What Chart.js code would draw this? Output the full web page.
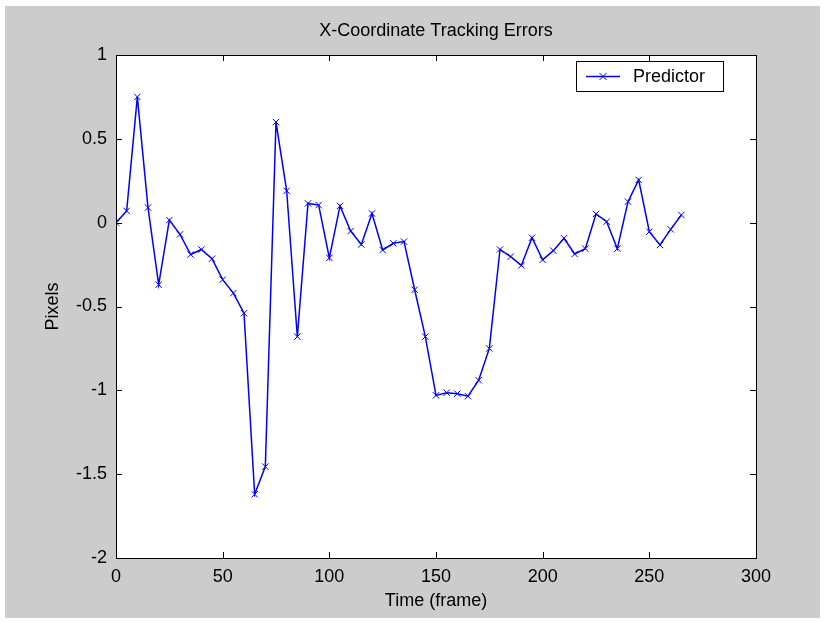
<!DOCTYPE html>
<html><head><meta charset="utf-8">
<script src="https://cdn.jsdelivr.net/npm/chart.js@4.4.1/dist/chart.umd.min.js"></script>
<style>html,body{margin:0;padding:0;background:#fff;overflow:hidden}#wrap{width:825px;height:622px}</style>
</head><body><div id="wrap"><canvas id="c" width="825" height="622"></canvas></div>
<script>
const frames = [0,5,10,15,20,25,30,35,40,45,50,55,60,65,70,75,80,85,90,95,100,105,110,115,120,125,130,135,140,145,150,155,160,165,170,175,180,185,190,195,200,205,210,215,220,225,230,235,240,245,250,255,260,265];
const errors = [0,0.07,0.75,0.09,-0.37,0.015,-0.07,-0.19,-0.16,-0.215,-0.34,-0.42,-0.54,-1.62,-1.455,0.60,0.19,-0.68,0.115,0.105,-0.21,0.10,-0.05,-0.13,0.055,-0.163,-0.123,-0.113,-0.40,-0.68,-1.03,-1.014,-1.02,-1.035,-0.94,-0.75,-0.16,-0.203,-0.255,-0.09,-0.222,-0.167,-0.093,-0.187,-0.155,0.052,0.006,-0.155,0.125,0.255,-0.054,-0.133,-0.04,0.046];
const xTicks = [0,50,100,150,200,250,300];
const yTicks = [-2,-1.5,-1,-0.5,0,0.5,1];
const chartTitle = 'X-Coordinate Tracking Errors';
const seriesLabel = 'Predictor';
const xTitle = 'Time (frame)';
const yTitle = 'Pixels';

const FONT = '"Liberation Sans", Arial, sans-serif';
Chart.defaults.color = '#000';
Chart.defaults.font.family = FONT;
Chart.defaults.font.size = 18;

const points = frames.map((f, i) => ({x: f, y: errors[i]}));

const framePlugin = {
  id: 'matlabFrame',
  beforeDraw(chart) {
    const ctx = chart.ctx, a = chart.chartArea;
    ctx.save();
    ctx.fillStyle = '#ffffff';
    ctx.fillRect(0, 0, chart.width, chart.height);
    ctx.fillStyle = '#cccccc';
    ctx.fillRect(5, 6, 815, 612);
    ctx.fillStyle = '#ffffff';
    ctx.fillRect(a.left, a.top, a.right - a.left, a.bottom - a.top);
    // title centred over the plot area
    ctx.fillStyle = '#000';
    ctx.font = '18px ' + FONT;
    ctx.textAlign = 'center';
    ctx.textBaseline = 'middle';
    ctx.fillText(chartTitle, (a.left + a.right) / 2, 31);
    ctx.restore();
  },
  afterDraw(chart) {
    const ctx = chart.ctx, a = chart.chartArea;
    const xs = chart.scales.x, ys = chart.scales.y;
    ctx.save();
    ctx.strokeStyle = '#000';
    ctx.lineWidth = 1;
    ctx.strokeRect(Math.round(a.left) + 0.5, Math.round(a.top) + 0.5, Math.round(a.right - a.left), Math.round(a.bottom - a.top));
    const tl = 6;
    ctx.beginPath();
    xTicks.forEach(v => {
      const px = Math.round(xs.getPixelForValue(v)) + 0.5;
      ctx.moveTo(px, a.bottom); ctx.lineTo(px, a.bottom - tl);
      ctx.moveTo(px, a.top); ctx.lineTo(px, a.top + tl);
    });
    yTicks.forEach(v => {
      const py = Math.round(ys.getPixelForValue(v)) + 0.5;
      ctx.moveTo(a.left, py); ctx.lineTo(a.left + tl, py);
      ctx.moveTo(a.right, py); ctx.lineTo(a.right - tl, py);
    });
    ctx.stroke();

    // legend box
    const ds = chart.data.datasets[0];
    const bx = 576.5, by = 61.5, bw = 147, bh = 30;
    ctx.fillStyle = '#fff';
    ctx.fillRect(bx, by, bw, bh);
    ctx.strokeStyle = '#000';
    ctx.strokeRect(bx, by, bw, bh);
    const ly = by + bh / 2;
    ctx.strokeStyle = ds.borderColor;
    ctx.lineWidth = 1.5;
    ctx.beginPath();
    ctx.moveTo(586, ly); ctx.lineTo(620, ly);
    ctx.stroke();
    ctx.lineWidth = 1;
    ctx.beginPath();
    const m = 3.5, cx = 603;
    ctx.moveTo(cx - m, ly - m); ctx.lineTo(cx + m, ly + m);
    ctx.moveTo(cx - m, ly + m); ctx.lineTo(cx + m, ly - m);
    ctx.stroke();
    ctx.fillStyle = '#000';
    ctx.font = '18px ' + FONT;
    ctx.textBaseline = 'middle';
    ctx.textAlign = 'left';
    ctx.fillText(ds.label, 633, ly + 1);
    ctx.restore();
  }
};

new Chart(document.getElementById('c'), {
  type: 'line',
  data: {
    datasets: [{
      label: seriesLabel,
      data: points,
      borderColor: '#0000ff',
      backgroundColor: '#0000ff',
      borderWidth: 1.5,
      pointStyle: 'crossRot',
      pointRadius: 4.5,
      pointBorderWidth: 1,
      pointBorderColor: '#0000ff',
      tension: 0,
      fill: false
    }]
  },
  options: {
    responsive: false,
    animation: false,
    devicePixelRatio: 1,
    layout: {padding: {top: 55, right: 69, bottom: 0, left: 0}},
    plugins: {
      legend: {display: false},
      tooltip: {enabled: false},
      title: {display: false}
    },
    scales: {
      x: {
        type: 'linear',
        min: 0, max: 300,
        afterBuildTicks: s => { s.ticks = xTicks.map(v => ({value: v})); },
        afterFit: s => { s.height = 64; },
        grid: {display: false, drawTicks: false},
        border: {display: false},
        ticks: {padding: 8, color: '#000', maxRotation: 0, callback: v => String(v)},
        title: {display: true, text: xTitle, color: '#000', padding: {top: 0, bottom: 10}}
      },
      y: {
        type: 'linear',
        min: -2, max: 1,
        afterBuildTicks: s => { s.ticks = yTicks.map(v => ({value: v})); },
        afterFit: s => { s.width = 116; },
        grid: {display: false, drawTicks: false},
        border: {display: false},
        ticks: {padding: 9, color: '#000', callback: v => String(v)},
        title: {display: true, text: yTitle, color: '#000', padding: {top: 42, bottom: 0}}
      }
    }
  },
  plugins: [framePlugin]
});
</script>
</body></html>
